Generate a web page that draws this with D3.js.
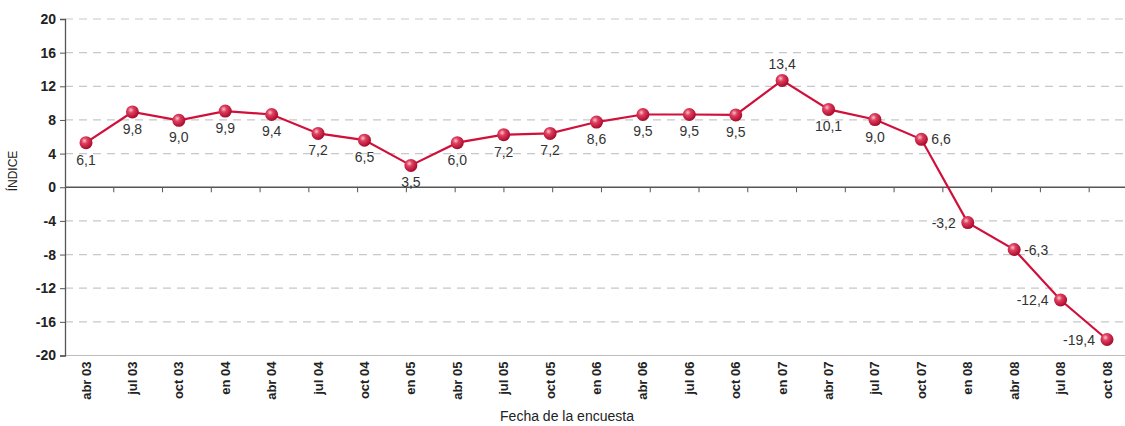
<!DOCTYPE html>
<html>
<head>
<meta charset="utf-8">
<script src="https://cdn.jsdelivr.net/npm/d3@7"></script>
<style>
  body { margin: 0; background: #fff; }
  svg text { font-family: "Liberation Sans Narrow", "Liberation Sans", Arial, sans-serif; }
  .ytick { font-size: 14px; font-weight: bold; fill: #222; }
  .xtick { font-size: 13px; font-weight: bold; fill: #222; }
  .vlabel { font-size: 14px; fill: #333; }
  .title { font-size: 14px; fill: #222; }
</style>
</head>
<body>
<svg id="canvas"></svg>
<script>
// fechas de la encuesta
let fechas = ["abr 03","jul 03","oct 03","en 04","abr 04","jul 04","oct 04","en 05","abr 05","jul 05","oct 05",
              "en 06","abr 06","jul 06","oct 06","en 07","abr 07","jul 07","oct 07","en 08","abr 08","jul 08","oct 08"];
// posicion del punto (como esta dibujado)
let indice = [5.3, 8.95, 7.95, 9.05, 8.65, 6.4, 5.6, 2.6, 5.3, 6.25, 6.4,
              7.75, 8.65, 8.65, 8.6, 12.7, 9.25, 8.05, 5.7, -4.2, -7.4, -13.4, -18.1];
// etiqueta que lleva cada punto
let etiquetas = ["6,1","9,8","9,0","9,9","9,4","7,2","6,5","3,5","6,0","7,2","7,2",
                 "8,6","9,5","9,5","9,5","13,4","10,1","9,0","6,6","-3,2","-6,3","-12,4","-19,4"];
// donde va la etiqueta: b abajo, a arriba, d derecha, i izquierda
let lado = ["b","b","b","b","b","b","b","b","b","b","b",
            "b","b","b","b","a","b","b","d","i","d","i","i"];
let yTicks = [20,16,12,8,4,0,-4,-8,-12,-16,-20];

var width = 1125, height = 426;
var mLeft = 65, mTop = 19, mBottom = 355.5;

let canvas = d3.select('#canvas')
    .attr('width', width)
    .attr('height', height);

var defs = canvas.append("defs");
var grad = defs.append("radialGradient")
    .attr("id", "bola")
    .attr("cx", "38%").attr("cy", "35%").attr("r", "65%");
grad.append("stop").attr("offset", "0%").attr("stop-color", "#f7c4cf");
grad.append("stop").attr("offset", "35%").attr("stop-color", "#e0405f");
grad.append("stop").attr("offset", "100%").attr("stop-color", "#a80a2c");

var x = d3.scalePoint()
    .domain(fechas)
    .range([86, 1107]);

var y = d3.scaleLinear()
    .domain([-20, 20])
    .range([mBottom, mTop]);

// grid
canvas.append("g").selectAll("line")
    .data(yTicks.filter(d => d != 0 && d != -20))
    .enter()
    .append("line")
    .attr("x1", mLeft).attr("x2", width)
    .attr("y1", d => y(d)).attr("y2", d => y(d))
    .attr("stroke", "#c8c8c8")
    .attr("stroke-width", 1.2)
    .attr("stroke-dasharray", "8,6");

// linea inferior
canvas.append("line")
    .attr("x1", mLeft).attr("x2", width)
    .attr("y1", y(-20)).attr("y2", y(-20))
    .attr("stroke", "#bdbdbd").attr("stroke-width", 1.2);

// eje y (guion normal, no signo menos)
var yAxis = d3.axisLeft(y).tickValues(yTicks).tickSize(5).tickPadding(4)
    .tickFormat(d => String(d));
var gy = canvas.append("g")
    .attr("transform", "translate(" + mLeft + ",0)")
    .call(yAxis);
gy.attr("font-family", null).attr("font-size", null);
gy.select(".domain").attr("stroke", "#555").attr("stroke-width", 1.3);
gy.selectAll(".tick line").attr("stroke", "#555");
gy.selectAll("text").attr("class", "ytick").attr("fill", null);

// linea del cero con sus marcas
canvas.append("line")
    .attr("x1", mLeft).attr("x2", width)
    .attr("y1", y(0)).attr("y2", y(0))
    .attr("stroke", "#555").attr("stroke-width", 1.3);
var paso = 48.77;
canvas.append("g").selectAll("line")
    .data(d3.range(1, 22))
    .enter()
    .append("line")
    .attr("x1", d => mLeft + d * paso).attr("x2", d => mLeft + d * paso)
    .attr("y1", y(0)).attr("y2", y(0) + 5)
    .attr("stroke", "#555");

// etiquetas del eje x
canvas.append("g").selectAll("text")
    .data(fechas)
    .enter()
    .append("text")
    .attr("class", "xtick")
    .attr("transform", d => "translate(" + (x(d) + 4.5) + "," + (mBottom + 6) + ") rotate(-90)")
    .attr("text-anchor", "end")
    .text(d => d);

// titulos
canvas.append("text")
    .attr("class", "title")
    .attr("x", 567).attr("y", 421)
    .attr("text-anchor", "middle")
    .text("Fecha de la encuesta");

canvas.append("text")
    .attr("class", "title")
    .style("font-size", "12px")
    .attr("transform", "translate(17,171) rotate(-90)")
    .attr("text-anchor", "middle")
    .text("ÍNDICE");

// serie
var line = d3.line()
    .x((d, i) => x(fechas[i]))
    .y(d => y(d));

canvas.append("path")
    .datum(indice)
    .attr("d", line)
    .attr("fill", "none")
    .attr("stroke", "#d0103a")
    .attr("stroke-width", 2.2);

canvas.append("g").selectAll("circle")
    .data(indice)
    .enter()
    .append("circle")
    .attr("cx", (d, i) => x(fechas[i]))
    .attr("cy", d => y(d))
    .attr("r", 6.5)
    .attr("fill", "url(#bola)");

canvas.append("g").selectAll("text")
    .data(indice)
    .enter()
    .append("text")
    .attr("class", "vlabel")
    .attr("x", function(d, i) {
        var px = x(fechas[i]);
        if (lado[i] == "d") return px + 10;
        if (lado[i] == "i") return px - 12;
        return px;
    })
    .attr("y", function(d, i) {
        var py = y(d);
        if (lado[i] == "b") return py + 22;
        if (lado[i] == "a") return py - 11;
        return py + 5;
    })
    .attr("text-anchor", function(d, i) {
        if (lado[i] == "d") return "start";
        if (lado[i] == "i") return "end";
        return "middle";
    })
    .text((d, i) => etiquetas[i]);
</script>
</body>
</html>
